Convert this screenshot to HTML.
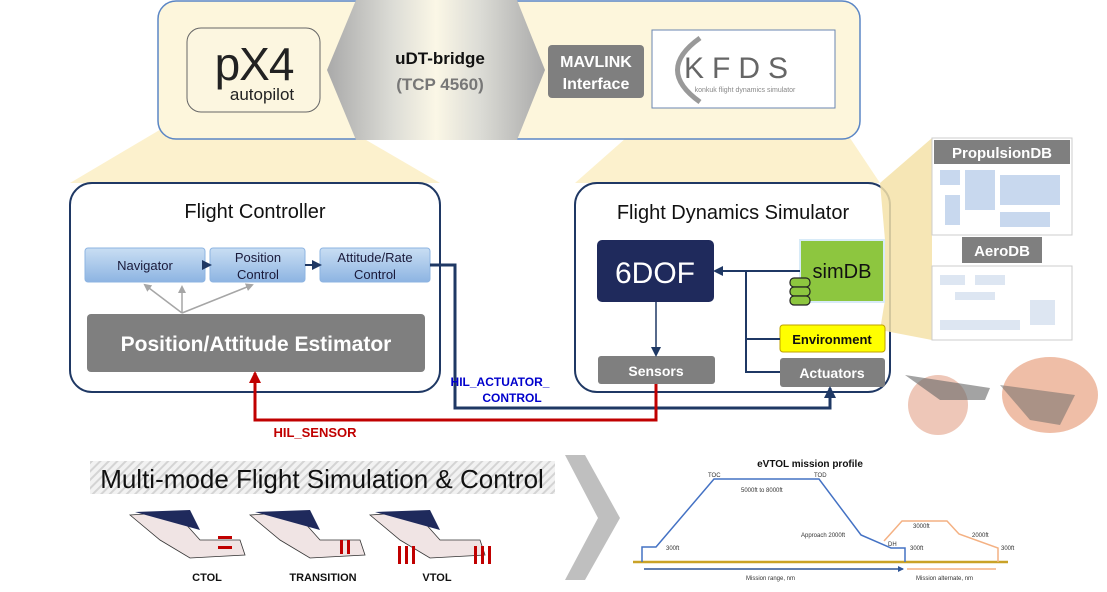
<!DOCTYPE html>
<html><head><meta charset="utf-8"><style>
html,body{margin:0;padding:0;background:#fff;}
svg{display:block;font-family:"Liberation Sans",sans-serif;}
</style></head><body>
<svg width="1107" height="592" viewBox="0 0 1107 592" xmlns="http://www.w3.org/2000/svg">
<defs>
<linearGradient id="bl" x1="0" y1="0" x2="0" y2="1"><stop offset="0" stop-color="#c9def3"/><stop offset="1" stop-color="#8db4e2"/></linearGradient>
<linearGradient id="ar" x1="0" y1="0" x2="1" y2="0"><stop offset="0" stop-color="#a9a9a9"/><stop offset="0.3" stop-color="#dcdcd6"/><stop offset="0.5" stop-color="#fbf7e6"/><stop offset="0.7" stop-color="#dcdcd6"/><stop offset="1" stop-color="#a9a9a9"/></linearGradient>
<pattern id="st" width="6" height="6" patternUnits="userSpaceOnUse" patternTransform="rotate(45)"><rect width="6" height="6" fill="#f2f2f2"/><rect width="2" height="6" fill="#d4d4d4"/></pattern>
<marker id="an" markerUnits="userSpaceOnUse" markerWidth="10" markerHeight="10" refX="8" refY="5" orient="auto"><path d="M0,0 L10,5 L0,10z" fill="#1f3864"/></marker>
<marker id="anb" markerUnits="userSpaceOnUse" markerWidth="12" markerHeight="12" refX="10" refY="6" orient="auto"><path d="M0,0 L12,6 L0,12z" fill="#1f3864"/></marker>
<marker id="ar2" markerUnits="userSpaceOnUse" markerWidth="12" markerHeight="12" refX="10" refY="6" orient="auto"><path d="M0,0 L12,6 L0,12z" fill="#c00000"/></marker>
<marker id="ag" markerUnits="userSpaceOnUse" markerWidth="8" markerHeight="8" refX="6" refY="4" orient="auto"><path d="M0,0 L8,4 L0,8z" fill="#a6a6a6"/></marker>
<marker id="ab" markerUnits="userSpaceOnUse" markerWidth="6" markerHeight="6" refX="5" refY="3" orient="auto"><path d="M0,0 L6,3 L0,6z" fill="#2f5597"/></marker>
</defs>
<!-- yellow trapezoids -->
<polygon points="190,112 318,112 440,183 70,183" fill="#fcefc4" opacity="0.85"/>
<polygon points="660,108 830,108 880,183 575,183" fill="#fcefc4" opacity="0.85"/>
<!-- top box -->
<rect x="158" y="1" width="702" height="138" rx="18" fill="#fdf6dc" stroke="#5b86c5" stroke-width="1.5"/>
<polygon points="356,0 517,0 545,70 517,140 356,140 327,70" fill="url(#ar)"/>
<rect x="187" y="28" width="133" height="84" rx="14" fill="#fcf6e0" stroke="#666" stroke-width="1"/>
<text x="254" y="80" font-size="46" text-anchor="middle" fill="#222" letter-spacing="-1">pX4</text>
<text x="262" y="100" font-size="17" text-anchor="middle" fill="#222">autopilot</text>
<text x="440" y="64" font-size="17" font-weight="bold" text-anchor="middle" fill="#111">uDT-bridge</text>
<text x="440" y="90" font-size="17" font-weight="bold" text-anchor="middle" fill="#777">(TCP 4560)</text>
<rect x="548" y="45" width="96" height="53" rx="4" fill="#7f7f7f"/>
<text x="596" y="67" font-size="16" font-weight="bold" text-anchor="middle" fill="#fff">MAVLINK</text>
<text x="596" y="89" font-size="16" font-weight="bold" text-anchor="middle" fill="#fff">Interface</text>
<rect x="652" y="30" width="183" height="78" fill="#fff" stroke="#6a86b0"/>
<path d="M700,38 Q655,70 700,102" fill="none" stroke="#999" stroke-width="5"/>
<text x="740" y="78" font-size="30" text-anchor="middle" fill="#666" letter-spacing="8">KFDS</text>
<text x="745" y="92" font-size="7" text-anchor="middle" fill="#888">konkuk flight dynamics simulator</text>
<!-- FC -->
<rect x="70" y="183" width="370" height="209" rx="22" fill="#fff" stroke="#1f3864" stroke-width="2"/>
<text x="255" y="218" font-size="20" text-anchor="middle" fill="#111">Flight Controller</text>
<rect x="85" y="248" width="120" height="34" rx="3" fill="url(#bl)" stroke="#8db4e2"/>
<text x="145" y="270" font-size="13" text-anchor="middle" fill="#1a1a3a">Navigator</text>
<rect x="210" y="248" width="95" height="34" rx="3" fill="url(#bl)" stroke="#8db4e2"/>
<text x="258" y="262" font-size="13" text-anchor="middle" fill="#1a1a3a">Position</text>
<text x="258" y="279" font-size="13" text-anchor="middle" fill="#1a1a3a">Control</text>
<rect x="320" y="248" width="110" height="34" rx="3" fill="url(#bl)" stroke="#8db4e2"/>
<text x="375" y="262" font-size="13" text-anchor="middle" fill="#1a1a3a">Attitude/Rate</text>
<text x="375" y="279" font-size="13" text-anchor="middle" fill="#1a1a3a">Control</text>
<line x1="205" y1="265" x2="210" y2="265" stroke="#1f3864" stroke-width="2" marker-end="url(#an)"/>
<line x1="305" y1="265" x2="320" y2="265" stroke="#1f3864" stroke-width="2" marker-end="url(#an)"/>
<g stroke="#a6a6a6" stroke-width="1.5"><line x1="182" y1="313" x2="145" y2="285" marker-end="url(#ag)"/><line x1="182" y1="313" x2="182" y2="287" marker-end="url(#ag)"/><line x1="182" y1="313" x2="252" y2="285" marker-end="url(#ag)"/></g>
<rect x="87" y="314" width="338" height="58" rx="4" fill="#7f7f7f"/>
<text x="256" y="351" font-size="21" font-weight="bold" text-anchor="middle" fill="#fff">Position/Attitude Estimator</text>
<!-- FDS -->
<rect x="575" y="183" width="315" height="209" rx="22" fill="#fff" stroke="#1f3864" stroke-width="2"/>
<text x="733" y="219" font-size="20" text-anchor="middle" fill="#111">Flight Dynamics Simulator</text>
<polygon points="880,183 932,138 932,340 880,330 885,300 885,240" fill="#f5e2a8" opacity="0.85"/>
<rect x="597" y="240" width="117" height="62" rx="5" fill="#1f2a5c"/>
<text x="655" y="283" font-size="30" text-anchor="middle" fill="#fff">6DOF</text>
<rect x="800" y="240" width="84" height="62" fill="#8dc63f" stroke="#d8ebf8" stroke-width="2"/>
<text x="842" y="278" font-size="20" text-anchor="middle" fill="#111">simDB</text>
<g fill="#8dc63f" stroke="#222" stroke-width="1.2"><rect x="790" y="278" width="20" height="9" rx="4"/><rect x="790" y="287" width="20" height="9" rx="4"/><rect x="790" y="296" width="20" height="9" rx="4"/></g>
<rect x="780" y="325" width="105" height="27" rx="3" fill="#ffff00" stroke="#bfa000"/>
<text x="832" y="344" font-size="13" font-weight="bold" text-anchor="middle" fill="#111">Environment</text>
<rect x="780" y="358" width="105" height="29" rx="3" fill="#7f7f7f"/>
<text x="832" y="378" font-size="14" font-weight="bold" text-anchor="middle" fill="#fff">Actuators</text>
<rect x="598" y="356" width="117" height="28" rx="3" fill="#7f7f7f"/>
<text x="656" y="376" font-size="14" font-weight="bold" text-anchor="middle" fill="#fff">Sensors</text>
<line x1="656" y1="302" x2="656" y2="355" stroke="#1f3864" stroke-width="1.5" marker-end="url(#an)"/>
<path d="M800,271 L715,271" stroke="#1f3864" stroke-width="2" fill="none" marker-end="url(#an)"/>
<path d="M746,271 L746,372 L780,372 M746,339 L780,339" stroke="#1f3864" stroke-width="2" fill="none"/>
<!-- connectors -->
<path d="M430,265 L455,265 L455,408 L830,408 L830,388" stroke="#1f3864" stroke-width="3" fill="none" marker-end="url(#anb)"/>
<path d="M656,384 L656,420 L255,420 L255,373" stroke="#c00000" stroke-width="3" fill="none" marker-end="url(#ar2)"/>
<text x="500" y="386" font-size="12" font-weight="bold" text-anchor="middle" fill="#0000cc">HIL_ACTUATOR_</text>
<text x="512" y="402" font-size="12" font-weight="bold" text-anchor="middle" fill="#0000cc">CONTROL</text>
<text x="315" y="437" font-size="13" font-weight="bold" text-anchor="middle" fill="#c00000">HIL_SENSOR</text>
<!-- DB images -->
<rect x="932" y="138" width="140" height="97" fill="#fff" stroke="#ccc"/>
<rect x="934" y="140" width="136" height="24" fill="#7f7f7f"/>
<text x="1002" y="158" font-size="15" font-weight="bold" text-anchor="middle" fill="#fff">PropulsionDB</text>
<g fill="#c8d8ee"><rect x="940" y="170" width="20" height="15"/><rect x="965" y="170" width="30" height="40"/><rect x="1000" y="175" width="60" height="30"/><rect x="945" y="195" width="15" height="30"/><rect x="1000" y="212" width="50" height="15"/></g>
<rect x="962" y="237" width="80" height="26" fill="#7f7f7f"/>
<text x="1002" y="256" font-size="15" font-weight="bold" text-anchor="middle" fill="#fff">AeroDB</text>
<rect x="932" y="266" width="140" height="74" fill="#fff" stroke="#ccc"/>
<g fill="#dde6f2"><rect x="940" y="275" width="25" height="10"/><rect x="975" y="275" width="30" height="10"/><rect x="955" y="292" width="40" height="8"/><rect x="1030" y="300" width="25" height="25"/><rect x="940" y="320" width="80" height="10"/></g>
<!-- drone images -->
<ellipse cx="938" cy="405" rx="30" ry="30" fill="#eab9a6" opacity="0.8"/>
<ellipse cx="1050" cy="395" rx="48" ry="38" fill="#e9a88a" opacity="0.75"/>
<path d="M905,375 L990,388 L985,400 L940,400z" fill="#666" opacity="0.6"/>
<path d="M1000,385 L1075,395 L1060,425 L1030,420z" fill="#666" opacity="0.5"/>
<!-- bottom -->
<rect x="90" y="461" width="465" height="33" fill="url(#st)"/>
<text x="322" y="488" font-size="26" text-anchor="middle" fill="#111">Multi-mode Flight Simulation &amp; Control</text>
<polygon points="565,455 585,455 620,518 585,580 565,580 598,518" fill="#bfbfbf"/>
<g>
<path d="M130,515 L175,512 L200,540 L240,540 L245,555 L190,558 L160,540z" fill="#f0e4e4" stroke="#333" stroke-width="0.8"/>
<path d="M135,512 L190,510 L200,530z" fill="#1f2a5c"/>
<path d="M250,515 L295,512 L320,540 L360,540 L365,555 L310,558 L280,540z" fill="#f0e4e4" stroke="#333" stroke-width="0.8"/>
<path d="M255,512 L310,510 L320,530z" fill="#1f2a5c"/>
<path d="M370,515 L415,512 L440,540 L480,540 L485,555 L430,558 L400,540z" fill="#f0e4e4" stroke="#333" stroke-width="0.8"/>
<path d="M375,512 L430,510 L440,530z" fill="#1f2a5c"/>
<g fill="#c00000"><rect x="218" y="536" width="14" height="3"/><rect x="218" y="546" width="14" height="3"/><rect x="340" y="540" width="3" height="14"/><rect x="347" y="540" width="3" height="14"/><rect x="398" y="546" width="3" height="18"/><rect x="405" y="546" width="3" height="18"/><rect x="412" y="546" width="3" height="18"/><rect x="474" y="546" width="3" height="18"/><rect x="481" y="546" width="3" height="18"/><rect x="488" y="546" width="3" height="18"/></g>
</g>
<text x="207" y="581" font-size="11" font-weight="bold" text-anchor="middle" fill="#111">CTOL</text>
<text x="323" y="581" font-size="11" font-weight="bold" text-anchor="middle" fill="#111">TRANSITION</text>
<text x="437" y="581" font-size="11" font-weight="bold" text-anchor="middle" fill="#111">VTOL</text>
<!-- chart -->
<text x="810" y="467" font-size="10" font-weight="bold" text-anchor="middle" fill="#111">eVTOL mission profile</text>
<line x1="633" y1="562" x2="1008" y2="562" stroke="#c9a227" stroke-width="2.5"/>
<path d="M642,562 L642,547 L656,547 L714,479 L819,479 L861,535 L891,548 L905,548 L905,562" fill="none" stroke="#4472c4" stroke-width="1.5"/>
<path d="M884,541 L902,521 L947,521 L959,534 L998,548 L998,562" fill="none" stroke="#f4b183" stroke-width="1.5"/>
<line x1="644" y1="569" x2="903" y2="569" stroke="#2f5597" stroke-width="1.5" marker-end="url(#ab)"/>
<line x1="907" y1="569" x2="996" y2="569" stroke="#f4b183" stroke-width="1.5"/>
<g font-size="6" fill="#333">
<text x="708" y="477">TOC</text><text x="814" y="477">TOD</text>
<text x="741" y="492">5000ft to 8000ft</text>
<text x="801" y="537">Approach 2000ft</text>
<text x="888" y="546">DH</text>
<text x="666" y="550">300ft</text><text x="910" y="550">300ft</text><text x="1001" y="550">300ft</text>
<text x="913" y="528">3000ft</text><text x="972" y="537">2000ft</text>
<text x="746" y="580">Mission range, nm</text>
<text x="916" y="580">Mission alternate, nm</text>
</g>
</svg>
</body></html>
